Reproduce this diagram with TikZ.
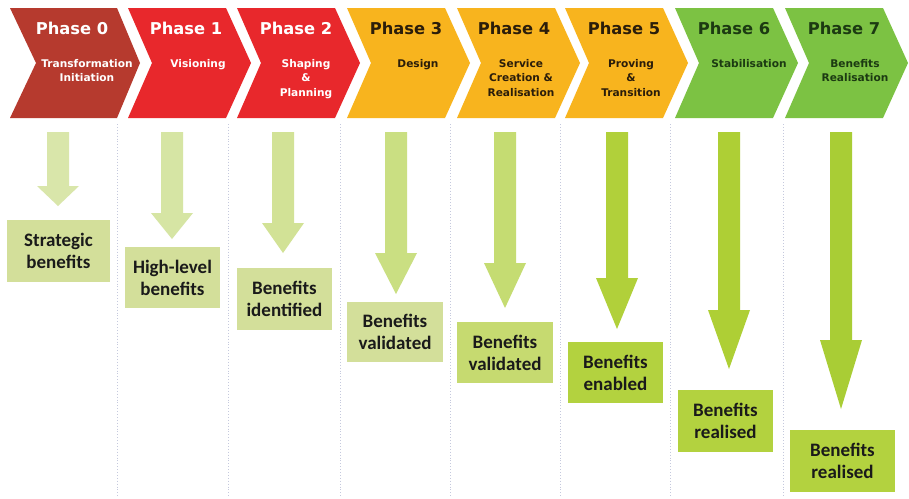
\documentclass[tikz,border=0pt]{standalone}
\usepackage{fontspec}
\setmainfont{Carlito}
\newfontfamily\dejav{DejaVu Sans}
\definecolor{cDark}{HTML}{B63A2E}
\definecolor{cRed}{HTML}{E8282C}
\definecolor{cAmb}{HTML}{F8B41E}
\definecolor{cGrn}{HTML}{7CC243}
\definecolor{tAmb}{HTML}{2B1D0A}
\definecolor{tGrn}{HTML}{1C3A12}
\definecolor{sepc}{HTML}{C5C9DD}
\definecolor{a0}{HTML}{D9E6AA}
\definecolor{a1}{HTML}{D6E5A4}
\definecolor{a2}{HTML}{D2E296}
\definecolor{a3}{HTML}{CADF82}
\definecolor{a4}{HTML}{C5DC72}
\definecolor{a5}{HTML}{B1D03A}
\definecolor{a6}{HTML}{AECF35}
\definecolor{a7}{HTML}{A9CD35}
\definecolor{bLight}{HTML}{D3DF9A}
\definecolor{bMid}{HTML}{C6DA70}
\definecolor{bBright}{HTML}{B3D23F}
\definecolor{btxt}{HTML}{1A1A1A}
\newcommand\chevron[2]{%
  \fill[#2] (#1,8) -- ++(98,0) -- ++(25,55) -- ++(-25,55) -- ++(-98,0) -- ++(24,-55) -- cycle;}
\newcommand\garrow[4]{%
  \fill[#1] ({#2-11},132) -- ({#2+11},132) -- ({#2+11},#3) -- ({#2+21},#3) -- (#2,#4)
    -- ({#2-21},#3) -- ({#2-11},#3) -- cycle;}
\tikzset{
  ptitle/.style={font=\dejav\bfseries\fontsize{16.3}{19}\selectfont, inner sep=0pt},
  psub/.style={font=\dejav\bfseries\fontsize{10.6}{14.5}\selectfont, inner sep=0pt, align=center, anchor=north},
  bbox/.style={font=\bfseries\fontsize{19}{22}\selectfont, text=btxt, align=center, inner sep=0pt},
  sepline/.style={draw=sepc, line width=0.9pt, dotted}
}
\begin{document}
\begin{tikzpicture}[x=1pt,y=-1pt]
\useasboundingbox (0,0) rectangle (909,498);
\fill[white] (0,0) rectangle (909,498);
% chevrons
\fill[cDark] (10,8) -- (117,8) -- (140,63) -- (117,118) -- (10,118) -- (36,63) -- cycle;
\chevron{128}{cRed}
\chevron{237}{cRed}
\chevron{347}{cAmb}
\chevron{457}{cAmb}
\chevron{565}{cAmb}
\chevron{675}{cGrn}
\chevron{785}{cGrn}
% titles
\node[ptitle, text=white] (t0) at (72,28) {Phase 0};
\node[ptitle, text=white] (t1) at (186,28) {Phase 1};
\node[ptitle, text=white] (t2) at (296,28) {Phase 2};
\node[ptitle, text=tAmb] (t3) at (406,28) {Phase 3};
\node[ptitle, text=tAmb] (t4) at (514,28) {Phase 4};
\node[ptitle, text=tAmb] (t5) at (624,28) {Phase 5};
\node[ptitle, text=tGrn] (t6) at (734,28) {Phase 6};
\node[ptitle, text=tGrn] (t7) at (844,28) {Phase 7};
% subtitles
\node[psub, text=white] (s0) at (87,59) {Transformation\\Initiation};
\node[psub, text=white] (s1) at (198,59) {Visioning};
\node[psub, text=white] (s2) at (306,59) {Shaping\\\&\\Planning};
\node[psub, text=tAmb] (s3) at (418,59) {Design};
\node[psub, text=tAmb] (s4) at (521,59) {Service\\Creation \&\\Realisation};
\node[psub, text=tAmb] (s5) at (631,59) {Proving\\\&\\Transition};
\node[psub, text=tGrn] (s6) at (749,59) {Stabilisation};
\node[psub, text=tGrn] (s7) at (855,59) {Benefits\\Realisation};
% separators
\foreach \x in {117,228,340,450,560,670,783}
  \draw[sepline] (\x,124) -- (\x,498);
% arrows
\garrow{a0}{58}{186}{206}
\garrow{a1}{172}{213}{239}
\garrow{a2}{283}{223}{253}
\garrow{a3}{396}{253}{294}
\garrow{a4}{505}{263}{308}
\garrow{a5}{617}{278}{329}
\garrow{a6}{729}{310}{369}
\garrow{a7}{841}{340}{409}
% boxes
\node[bbox, fill=bLight, minimum width=103pt, minimum height=62pt] (b0) at (58.5,251) {Strategic\\benefits};
\node[bbox, fill=bLight, minimum width=95pt, minimum height=61pt] (b1) at (172.5,277.5) {High-level\\benefits};
\node[bbox, fill=bLight, minimum width=95pt, minimum height=62pt] (b2) at (284.5,299) {Benefits\\identified};
\node[bbox, fill=bLight, minimum width=96pt, minimum height=60pt] (b3) at (395,332) {Benefits\\validated};
\node[bbox, fill=bMid, minimum width=96pt, minimum height=61pt] (b4) at (505,352.5) {Benefits\\validated};
\node[bbox, fill=bBright, minimum width=95pt, minimum height=61pt] (b5) at (615.5,372.5) {Benefits\\enabled};
\node[bbox, fill=bBright, minimum width=95pt, minimum height=62pt] (b6) at (725.5,421) {Benefits\\realised};
\node[bbox, fill=bBright, minimum width=105pt, minimum height=62pt] (b7) at (842.5,461) {Benefits\\realised};
\end{tikzpicture}
\end{document}
